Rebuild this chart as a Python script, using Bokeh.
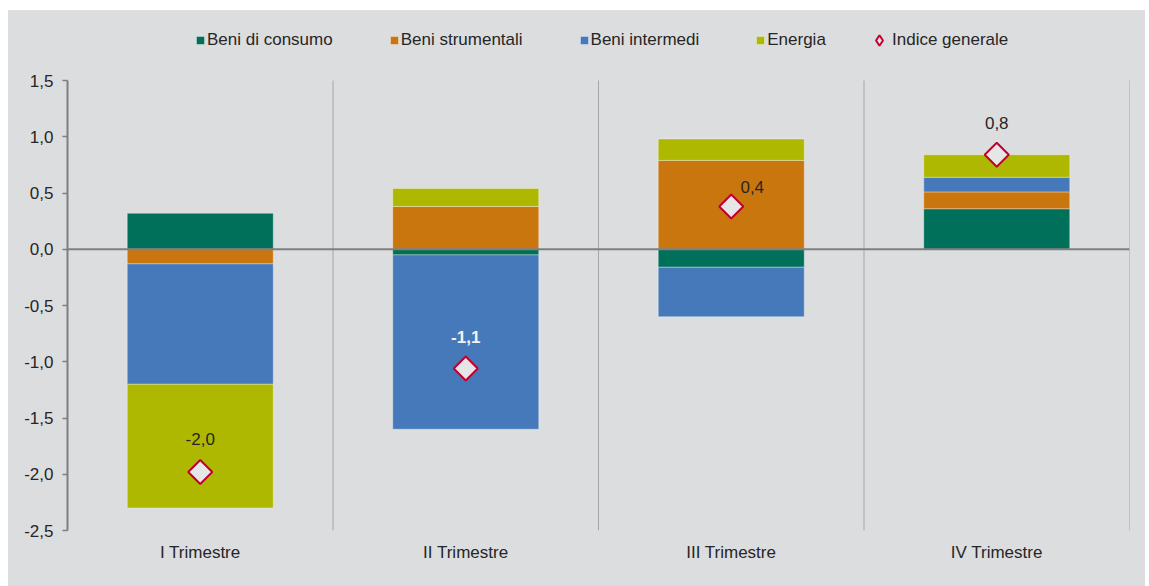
import numpy as np
from bokeh.plotting import figure
from bokeh.models import (ColumnDataSource, Range1d, FixedTicker, CustomJSTickFormatter,
                          Span, Legend, LegendItem)
from bokeh.core.properties import value
from bokeh.embed import file_html
from bokeh.resources import INLINE

# Contributi alla variazione congiunturale per raggruppamento principale di industrie
trimestri = ["I Trimestre", "II Trimestre", "III Trimestre", "IV Trimestre"]
beni_consumo = [0.32, -0.05, -0.16, 0.36]
beni_strumentali = [-0.13, 0.38, 0.79, 0.15]
beni_intermedi = [-1.07, -1.55, -0.44, 0.13]
energia = [-1.10, 0.16, 0.19, 0.20]
indice_generale = [-1.98, -1.06, 0.38, 0.84]
y_ticks = [-2.5, -2.0, -1.5, -1.0, -0.5, 0.0, 0.5, 1.0, 1.5]

BG = "#DCDDDF"
TXT = "#262626"
FONT = "Liberation Sans"
FS = "17px"

# the frame reaches the top of the figure so the legend can sit above the value axis
PLOT_H = 520          # frame height in px
AXIS_H = 450          # px spanned by the value axis
y_lo, y_hi = y_ticks[0], y_ticks[-1]
y_top = y_lo + (y_hi - y_lo) * PLOT_H / AXIS_H

p = figure(x_range=trimestri, y_range=Range1d(y_lo, y_top),
           width=1137, height=576, margin=(10, 4, 0, 8),
           output_backend="svg", toolbar_location=None,
           background_fill_alpha=0, border_fill_color=BG, outline_line_color=None,
           min_border_left=59, min_border_right=16, min_border_top=0, min_border_bottom=56)
# grey panel behind the whole canvas; the frame itself is left transparent
p.styles = {"background-color": BG}

series = [
    ("Beni di consumo", beni_consumo, "#00705A"),
    ("Beni strumentali", beni_strumentali, "#C9760E"),
    ("Beni intermedi", beni_intermedi, "#4679B9"),
    ("Energia", energia, "#AEB800"),
]

# stacked bars: positive and negative parts pile up separately from zero
pos = np.zeros(len(trimestri))
neg = np.zeros(len(trimestri))
bar_items = []
for name, vals, color in series:
    v = np.array(vals, dtype=float)
    bottom = np.where(v >= 0, pos, neg)
    top = bottom + v
    pos = np.where(v >= 0, top, pos)
    neg = np.where(v < 0, top, neg)
    src = ColumnDataSource(dict(x=trimestri, bottom=bottom, top=top))
    r = p.vbar(x="x", bottom="bottom", top="top", width=0.55, source=src,
               fill_color=color, line_color="white", line_alpha=0.35, line_width=1)
    bar_items.append(LegendItem(label=name, renderers=[r]))

# category separators (limited to the value axis span) and zero line
bounds = list(range(1, len(trimestri) + 1))
p.segment(x0=bounds, x1=bounds, y0=[y_lo] * len(bounds), y1=[y_hi] * len(bounds),
          line_color="#A6A6A6", line_width=1)
p.add_layout(Span(location=0, dimension="width", line_color="#7F7F7F", line_width=2))

# general index markers with value labels
lbl = [f"{v:.1f}".replace(".", ",") for v in indice_generale]
idx_src = ColumnDataSource(dict(
    x=trimestri, y=indice_generale, label=lbl,
    dx=[0, 0, 21, 0], dy=[-33, -32, -20, -32],
    color=[TXT, "#F2F2F2", TXT, TXT],
    style=["normal", "bold", "normal", "normal"],
))
p.scatter(x="x", y="y", source=idx_src, marker="square", angle=np.pi / 4, size=17,
          fill_color="#E6E6E6", line_color="#C0002F", line_width=2)
p.text(x="x", y="y", text="label", source=idx_src, x_offset="dx", y_offset="dy",
       text_color="color", text_font_style="style", text_font=value(FONT),
       text_font_size=FS, text_align="center", text_baseline="middle")

# legend-only marker for the index (its single point has no position, so nothing is drawn)
legend_marker = p.scatter(x=[trimestri[0]], y=[np.nan], marker="diamond",
                          fill_color="#E6E6E6", line_color="#C0002F", line_width=2)

leg1 = Legend(items=bar_items, orientation="horizontal", location=(128, 480),
              glyph_width=10, glyph_height=10, label_standoff=2, spacing=56,
              padding=0, margin=0, border_line_color=None, background_fill_alpha=0,
              label_text_font=FONT, label_text_font_size=FS, label_text_color=TXT)
leg2 = Legend(items=[LegendItem(label="Indice generale", renderers=[legend_marker])],
              orientation="horizontal", location=(799, 477),
              glyph_width=26, glyph_height=26, label_standoff=0,
              padding=0, margin=0, border_line_color=None, background_fill_alpha=0,
              label_text_font=FONT, label_text_font_size=FS, label_text_color=TXT)
p.add_layout(leg1, "center")
p.add_layout(leg2, "center")

# axes
p.xgrid.grid_line_color = None
p.ygrid.grid_line_color = None
p.xaxis.axis_line_color = None
p.xaxis.major_tick_line_color = None
p.xaxis.minor_tick_line_color = None
p.xaxis.major_label_standoff = 6
p.xaxis.major_label_text_font = FONT
p.xaxis.major_label_text_font_size = FS
p.xaxis.major_label_text_color = TXT

p.yaxis.bounds = (y_lo, y_hi)
p.yaxis.ticker = FixedTicker(ticks=y_ticks)
p.yaxis.formatter = CustomJSTickFormatter(code="return tick.toFixed(1).replace('.', ',')")
p.yaxis.axis_line_color = "#7F7F7F"
p.yaxis.axis_line_width = 2
p.yaxis.major_tick_line_color = "#7F7F7F"
p.yaxis.major_tick_line_width = 1.5
p.yaxis.major_tick_out = 5
p.yaxis.major_tick_in = 0
p.yaxis.minor_tick_line_color = None
p.yaxis.major_label_standoff = 9
p.yaxis.major_label_text_font = FONT
p.yaxis.major_label_text_font_size = FS
p.yaxis.major_label_text_color = TXT

open("out.html", "w").write(file_html(p, INLINE))
